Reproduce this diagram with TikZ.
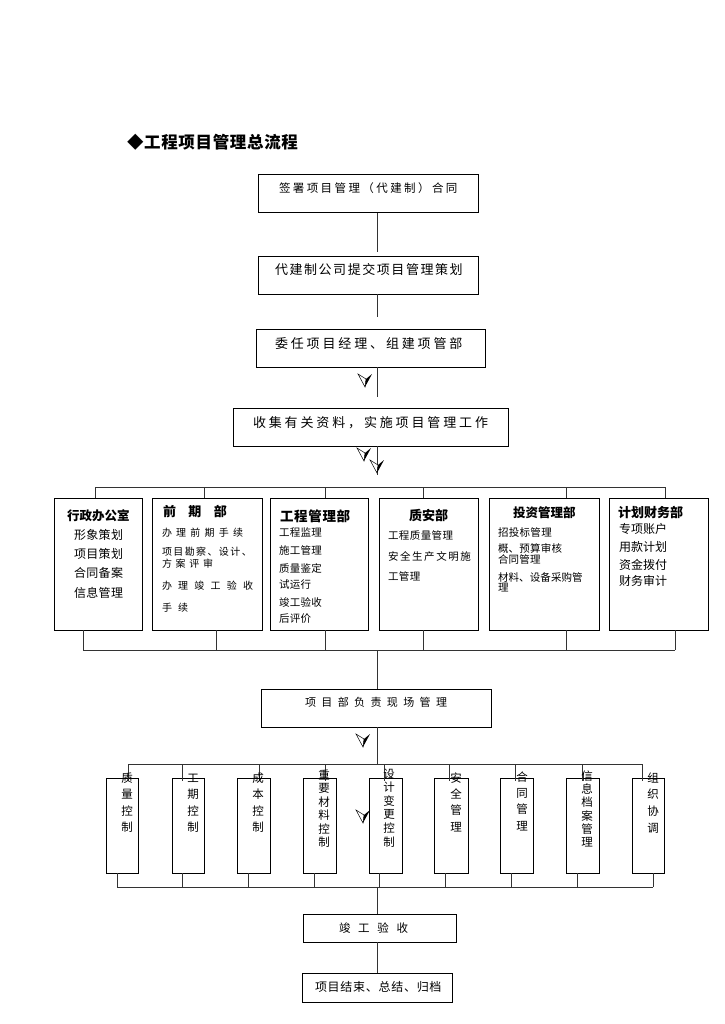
\documentclass[tikz,border=0pt]{standalone}
\usepackage{fontspec}
\newfontfamily\cjk{Noto Sans CJK SC}
\newcommand\fsz[2]{\fontsize{#1}{#1}\selectfont\addfontfeature{LetterSpace=#2}}
\tikzset{
  box/.style={draw=black, line width=1pt, inner sep=0pt, outer sep=0pt, fill=white},
  conn/.style={draw=black!80, line width=1pt},
  txt/.style={inner sep=0pt, outer sep=0pt, anchor=west},
  vt/.style={inner sep=0pt, outer sep=0pt, font=\cjk\fsz{11.5}{0}},
  ah/.pic={
    \draw[line width=0.5pt, fill=white] (0,0) -- (8,5) -- (7,13) -- cycle;
    \fill (8,5) -- (14,0) -- (7,13) -- cycle;
  }
}
\newcommand\vlab[5]{%
  \foreach \ch [count=\i from 0] in {#5} {\node[vt] (#1-\i) at (#2, #3+\i*#4) {\ch};}}
\begin{document}
\begin{tikzpicture}[x=1pt,y=-1pt]
\useasboundingbox (0,0) rectangle (724,1024);
\coordinate (sp) at (377,0);

% ---- main flow boxes
\node[box, minimum width=220pt, minimum height=38pt] (b1) at (368,194) {};
\node[box, minimum width=220pt, minimum height=38pt] (b2) at (368,275) {};
\node[box, minimum width=229pt, minimum height=38pt] (b3) at (370.5,348) {};
\node[box, minimum width=275pt, minimum height=38pt] (b4) at (370.5,427) {};
\node[box, minimum width=230pt, minimum height=38pt] (b5) at (376,708) {};
\node[box, minimum width=153pt, minimum height=28pt] (b6) at (379.5,928) {};
\node[box, minimum width=150pt, minimum height=29pt] (b7) at (377,987.5) {};

% ---- department boxes
\foreach \n/\cx/\w in {dA/98/88, dB/207/110, dC/319/98, dD/428.5/99, dE/544/110, dF/658.5/99}
  \node[box, minimum width=\w pt, minimum height=132pt] (\n) at (\cx,564) {};

% ---- control boxes
\foreach \n/\cx/\w in {k1/122/32, k2/188/32, k3/253.5/33, k4/319.5/33, k5/385.5/33, k6/451/34, k7/516.5/33, k8/582.5/33, k9/648/32}
  \node[box, minimum width=\w pt, minimum height=95pt] (\n) at (\cx,825.5) {};

% ---- connectors
\coordinate (e1) at (377,252); \draw[conn] (b1.south -| sp) -- (e1);
\coordinate (e2) at (377,317); \draw[conn] (b2.south -| sp) -- (e2);
\coordinate (e3) at (377,397); \draw[conn] (b3.south -| sp) -- (e3);
\coordinate (e4) at (377,475); \draw[conn] (b4.south -| sp) -- (e4);

\coordinate (bus1l) at (95,487); \coordinate (bus1r) at (665,487);
\draw[conn] (bus1l) -- (bus1r);
\foreach \n/\x in {dA/95, dB/204, dC/325, dD/423, dE/566, dF/665} {
  \coordinate (t\n) at (\x,487);
  \draw[conn] (t\n) -- (t\n |- \n.north);
}
\foreach \n/\x in {dA/83, dB/216, dC/325, dD/423, dE/566, dF/675} {
  \coordinate (s\n) at (\x,650);
  \draw[conn] (s\n |- \n.south) -- (s\n);
}
\coordinate (bus2l) at (83,650); \coordinate (bus2r) at (675,650);
\draw[conn] (bus2l) -- (bus2r);
\draw[conn] (sp |- bus2l) -- (b5.north -| sp);

\coordinate (bus3l) at (128,764); \coordinate (bus3r) at (642,764);
\draw[conn] (b5.south -| sp) -- (sp |- bus3l);
\draw[conn] (bus3l) -- (bus3r);
\foreach \n/\x in {k1/128, k2/182, k3/259, k4/325, k5/384, k6/449, k7/515, k8/582, k9/642} {
  \coordinate (t\n) at (\x,764);
  \draw[conn, shorten >=-3pt] (t\n) -- (t\n |- \n.north);
}
\foreach \n/\x in {k1/117, k2/182, k3/248, k4/314, k5/379, k6/445, k7/511, k8/577, k9/653} {
  \coordinate (s\n) at (\x,887);
  \draw[conn] (s\n |- \n.south) -- (s\n);
}
\coordinate (bus4l) at (117,887); \coordinate (bus4r) at (653,887);
\draw[conn] (bus4l) -- (bus4r);
\draw[conn] (sp |- bus4l) -- (b6.north -| sp);
\draw[conn] (b6.south -| sp) -- (b7.north -| sp);

% ---- title
\node[txt, font=\cjk\bfseries\fsz{16.5}{4}] (title) at (127,142) {◆工程项目管理总流程};

% ---- main flow texts
\node[txt, font=\cjk\fsz{11.5}{21}] (b1t) at (279,188) {签署项目管理（代建制）合同};
\node[txt, font=\cjk\fsz{13}{12}] (b2t) at (275,270) {代建制公司提交项目管理策划};
\node[txt, font=\cjk\fsz{13}{22}] (b3t) at (275,344) {委任项目经理、组建项管部};
\node[txt, font=\cjk\fsz{13}{22}] (b4t) at (253,423) {收集有关资料，实施项目管理工作};
\node[txt, font=\cjk\fsz{11}{49}] (b5t) at (305,702) {项目部负责现场管理};
\node[txt, font=\cjk\fsz{11.5}{67}] (b6t) at (339,928) {竣工验收};
\node[txt, font=\cjk\fsz{12}{6}] (b7t) at (315,987) {项目结束、总结、归档};

% ---- department texts
\node[txt, font=\cjk\bfseries\fsz{12.5}{0}] (dAh) at (67,516) {行政办公室};
\node[txt, font=\cjk\fsz{12}{3}] (dA1) at (74,535) {形象策划};
\node[txt, font=\cjk\fsz{12}{3}] (dA2) at (74,554) {项目策划};
\node[txt, font=\cjk\fsz{12}{3}] (dA3) at (74,573) {合同备案};
\node[txt, font=\cjk\fsz{12}{3}] (dA4) at (74,593) {信息管理};

\node[txt, font=\cjk\bfseries\fsz{13}{96}] (dBh) at (163,512) {前期部};
\node[txt, font=\cjk\fsz{10}{42}] (dB1) at (162,533) {办理前期手续};
\node[txt, font=\cjk\fsz{10}{14}] (dB2) at (162,552) {项目勘察、设计、};
\node[txt, font=\cjk\fsz{10}{37}] (dB3) at (162,564) {方案评审};
\node[txt, font=\cjk\fsz{10}{62}] (dB4) at (162,586) {办理竣工验收};
\node[txt, font=\cjk\fsz{10}{62}] (dB5) at (162,608) {手续};

\node[txt, font=\cjk\bfseries\fsz{13.5}{5}] (dCh) at (280,516) {工程管理部};
\node[txt, font=\cjk\fsz{10.5}{3}] (dC1) at (279,533) {工程监理};
\node[txt, font=\cjk\fsz{10.5}{3}] (dC2) at (279,550) {施工管理};
\node[txt, font=\cjk\fsz{10.5}{3}] (dC3) at (279,568) {质量鉴定};
\node[txt, font=\cjk\fsz{10.5}{3}] (dC4) at (279,585) {试运行};
\node[txt, font=\cjk\fsz{10.5}{3}] (dC5) at (279,602) {竣工验收};
\node[txt, font=\cjk\fsz{10.5}{3}] (dC6) at (279,619) {后评价};

\node[txt, font=\cjk\bfseries\fsz{13}{0}] (dDh) at (409,516) {质安部};
\node[txt, font=\cjk\fsz{10.5}{4}] (dD1) at (388,535) {工程质量管理};
\node[txt, font=\cjk\fsz{10.5}{15}] (dD2) at (388,556) {安全生产文明施};
\node[txt, font=\cjk\fsz{10.5}{4}] (dD3) at (388,576) {工管理};

\node[txt, font=\cjk\bfseries\fsz{12.5}{0}] (dEh) at (513,513) {投资管理部};
\node[txt, font=\cjk\fsz{10.5}{3}] (dE1) at (498,532) {招投标管理};
\node[txt, font=\cjk\fsz{10.5}{2}] (dE2) at (498,548) {概、预算审核};
\node[txt, font=\cjk\fsz{10.5}{2}] (dE3) at (498,559) {合同管理};
\node[txt, font=\cjk\fsz{10.5}{1}] (dE4) at (498,577) {材料、设备采购管};
\node[txt, font=\cjk\fsz{10.5}{1}] (dE5) at (498,588) {理};

\node[txt, font=\cjk\bfseries\fsz{13}{0}] (dFh) at (618,513) {计划财务部};
\node[txt, font=\cjk\fsz{12}{0}] (dF1) at (619,529) {专项账户};
\node[txt, font=\cjk\fsz{12}{0}] (dF2) at (619,547) {用款计划};
\node[txt, font=\cjk\fsz{12}{0}] (dF3) at (619,565) {资金拨付};
\node[txt, font=\cjk\fsz{12}{0}] (dF4) at (619,581) {财务审计};

% ---- vertical labels
\vlab{l1}{127}{778}{16.3}{质,量,控,制}
\vlab{l2}{193}{778}{16.3}{工,期,控,制}
\vlab{l3}{258}{778}{16.3}{成,本,控,制}
\vlab{l4}{324}{775}{13.4}{重,要,材,料,控,制}
\vlab{l5}{389}{774}{13.6}{设,计,变,更,控,制}
\vlab{l6}{456}{778}{16.3}{安,全,管,理}
\vlab{l7}{522}{777}{16.3}{合,同,管,理}
\vlab{l8}{587}{776}{13.2}{信,息,档,案,管,理}
\vlab{l9}{653}{778}{16.6}{组,织,协,调}

% ---- arrowhead marks
\pic at (358,374) {ah};
\pic at (357,448) {ah};
\pic at (370,460) {ah};
\pic at (356,734) {ah};
\pic at (356,810) {ah};
\end{tikzpicture}
\end{document}
